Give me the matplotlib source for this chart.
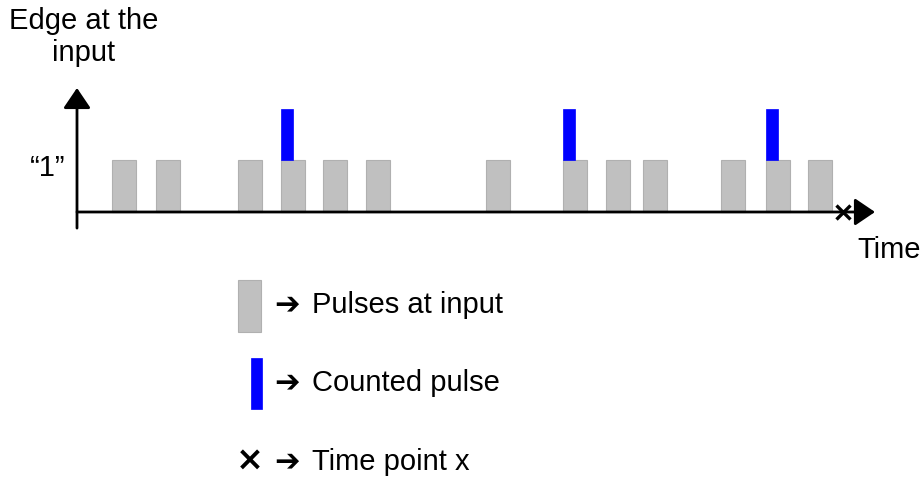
import matplotlib.pyplot as plt
from matplotlib.patches import Rectangle

plt.rcParams['font.family'] = ['Liberation Sans', 'DejaVu Sans']

# Pulse data (time in arbitrary units)
pulse_start = [3.5, 7.9, 16.1, 20.4, 24.6, 28.9, 40.9, 48.6, 52.9, 56.6, 64.4, 68.9, 73.1]
pulse_width = 2.35
pulse_level = 1.0
counted_start = [20.4, 48.6, 68.9]
counted_width = 1.2
counted_height = 0.98
time_point = 76.6

legend_labels = ["Pulses at input", "Counted pulse", "Time point x"]

W, H = 923, 479
fig = plt.figure(figsize=(W / 100, H / 100), dpi=100)
ax = fig.add_axes([0, 0, 1, 1])
ax.set_xlim(-7.7, 84.6)
ax.set_ylim(-5.135, 4.077)
ax.axis('off')


def px(x, y):
    # pixel position -> figure fraction
    return x / W, 1 - y / H


# pulses
ax.bar(pulse_start, [pulse_level] * len(pulse_start), width=pulse_width, align='edge',
       color='#c0c0c0', edgecolor='#b0b0b0', linewidth=0.8, zorder=2)
ax.bar(counted_start, [counted_height] * len(counted_start), width=counted_width,
       bottom=pulse_level, align='edge', color='#0000ff', edgecolor='#0000ff',
       linewidth=0.5, zorder=2)

# axes with arrow heads
arrow = dict(arrowstyle='-|>,head_length=0.62,head_width=0.42', color='black', lw=2,
             shrinkA=0, shrinkB=0, mutation_scale=20)
ax.annotate('', xy=(79.8, 0), xytext=(0, 0), arrowprops=arrow, zorder=3)
ax.annotate('', xy=(0, 2.385), xytext=(0, -0.31), arrowprops=arrow, zorder=3)

# time point x
ax.plot([time_point], [0], marker='x', color='black', ms=10, mew=2.4, zorder=4)

# labels
fig.text(*px(84, 37), "Edge at the\ninput", ha='center', va='center', fontsize=21,
         linespacing=1.2)
fig.text(*px(48, 168), "\u201c1\u201d", ha='center', va='center', fontsize=21)
fig.text(*px(889, 250), "Time", ha='center', va='center', fontsize=21)

# legend
fig.add_artist(Rectangle(px(238, 332), 23 / W, 52 / H, transform=fig.transFigure,
                         facecolor='#c0c0c0', edgecolor='#b0b0b0', lw=0.8))
fig.add_artist(Rectangle(px(251, 409), 11 / W, 51 / H, transform=fig.transFigure,
                         facecolor='#0000ff', edgecolor='#0000ff', lw=0.5))
fig.text(*px(250, 460), "\u00d7", ha='center', va='center', fontsize=24,
         fontweight='bold', family='DejaVu Sans')

for y, label in zip([305, 383, 462], legend_labels):
    fig.text(*px(287, y), "\u2794", ha='center', va='center', fontsize=22,
             fontweight='bold', family='DejaVu Sans')
    fig.text(*px(312, y), label, ha='left', va='center', fontsize=21)

fig.savefig('out.png', dpi=100)
